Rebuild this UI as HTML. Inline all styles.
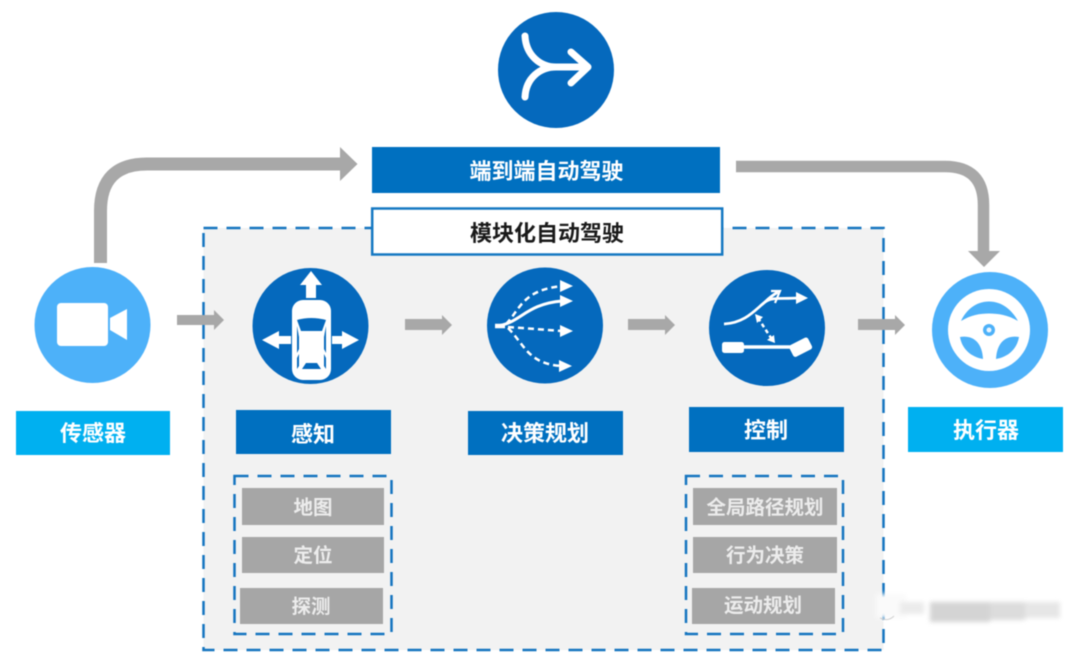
<!DOCTYPE html>
<html><head><meta charset="utf-8"><style>
html,body{margin:0;padding:0;background:#fff;width:1080px;height:663px;overflow:hidden}
svg{display:block;filter:blur(.6px)}
text{font-family:"Liberation Sans","Noto Sans CJK SC",sans-serif;text-anchor:middle;font-weight:700}
.h{font-size:22px;fill:#fff}
.g{font-size:19.5px;fill:#ececec;font-weight:700}
</style></head><body>
<svg width="1080" height="663" viewBox="0 0 1080 663" xmlns="http://www.w3.org/2000/svg">
<defs><filter id="b" x="-20%" y="-50%" width="140%" height="200%"><feGaussianBlur stdDeviation="2.5"/></filter></defs>
<rect width="1080" height="663" fill="#fff"/>
<!-- module panel -->
<rect x="203.5" y="228" width="680" height="422" fill="#f2f2f2" stroke="#1474bf" stroke-width="2.5" stroke-dasharray="14 9"/>
<!-- curved arrows -->
<path d="M100.500 263V211Q100.500 164 147 164H342" fill="none" stroke="#a8a8a8" stroke-width="13"/>
<polygon points="340,147 357.500,164 340,181" fill="#a8a8a8"/>
<path d="M736 166.500H945Q983.500 166.500 983.500 205V253" fill="none" stroke="#a8a8a8" stroke-width="11.500"/>
<polygon points="968,251 1000,251 984,267" fill="#a8a8a8"/>
<!-- small arrows -->
<g fill="#a8a8a8">
<polygon points="177,315 214,315 214,310 224,320 214,330 214,325 177,325"/>
<polygon points="405,319 442,319 442,315 452,325 442,335 442,330 405,330"/>
<polygon points="628,319 665,319 665,315 675,325 665,335 665,330 628,330"/>
<polygon points="858,319 895,319 895,315 905,325 895,335 895,330 858,330"/>
</g>
<!-- top icon -->
<circle cx="556" cy="70" r="58" fill="#0569bd"/>
<g fill="none" stroke="#fff" stroke-width="7" stroke-linecap="round" stroke-linejoin="round">
<path d="M525 36C526 55 540 67 556 67H586"/>
<path d="M525 97C526 78 540 67 556 67"/>
<path d="M571 52L588 67L571 83"/>
</g>
<!-- sensor -->
<circle cx="92.500" cy="325" r="58" fill="#4db1f9"/>
<rect x="57" y="303" width="51" height="43" rx="4" fill="#fff"/>
<polygon points="110,318 127,309 127,340 110,330" fill="#fff"/>
<!-- perception -->
<circle cx="310.500" cy="326" r="58" fill="#0569bd"/>
<g fill="#fff">
<polygon points="311,271 322,285 316,285 316,298 306,298 306,285 300,285"/>
<polygon points="262,340 279,331 279,336 291,336 291,344 279,344 279,349"/>
<polygon points="359,340 342,331 342,336 332,336 332,344 342,344 342,349"/>
<rect x="292" y="300" width="39" height="80" rx="11"/>
</g>
<g fill="#0569bd">
<path d="M297 320Q311 316 326 320L322 331H301Z"/>
<path d="M297 326L299 337V349L297 353Z"/>
<path d="M326 326L324 337V349L326 353Z"/>
<path d="M297 358L299 354V366L297 369Z"/>
<path d="M326 358L324 354V366L326 369Z"/>
<path d="M302 369L306 363H317L321 369Z"/>
</g>
<!-- decision -->
<circle cx="545" cy="325.500" r="58" fill="#0569bd"/>
<g fill="none" stroke="#fff">
<path d="M496 326C520 324 525 304 562 301" stroke-width="3"/>
<path d="M495 326H505" stroke-width="4.500"/>
<path d="M506 324C520 310 522 290 562 286" stroke-width="2.500" stroke-dasharray="6 4"/>
<path d="M508 327L562 331" stroke-width="2.500" stroke-dasharray="6 4"/>
<path d="M508 328C525 345 528 364 562 366" stroke-width="2.500" stroke-dasharray="6 4"/>
</g>
<g fill="#fff">
<polygon points="573,286 560,280 560,292"/>
<polygon points="573,301 560,295 560,307"/>
<polygon points="573,331 560,325 560,337"/>
<polygon points="572,366 559,360 559,372"/>
</g>
<!-- control -->
<circle cx="767" cy="328" r="58" fill="#0569bd"/>
<g fill="none" stroke="#fff">
<path d="M724 324C745 323 755 310 765 302C772 297 780 299 798 298" stroke-width="2.800"/>
<path d="M765 302C770 297 773 295 778 292" stroke-width="2.800"/>
<path d="M771 291H780L775 303" stroke-width="2.200"/>
<path d="M758 318L773 341" stroke-width="2.500" stroke-dasharray="4 3"/>
<path d="M730 347H790" stroke-width="3.500"/>
</g>
<g fill="#fff">
<polygon points="808,298 796,292 796,304"/>
<polygon points="755,314 763,317 757,323"/>
<polygon points="775,343 767,340 774,335"/>
<rect x="722" y="342" width="22" height="11" rx="2.500"/>
<rect x="790" y="341" width="21" height="13" rx="2.500" transform="rotate(-27 800 347)"/>
</g>
<!-- steering -->
<circle cx="990" cy="330" r="58" fill="#4db1f9"/>
<circle cx="989" cy="330" r="41" fill="#fff"/>
<g fill="#4db1f9">
<path d="M961 321C966 310 976 301.500 989 301.500C1002 301.500 1012 310 1018 321C1008 315 998 313.500 989 313.500C980 313.500 971 315 961 321Z"/>
<path d="M960 337C973 335 982 342 983 359C971 357 962 349 960 337Z"/>
<path d="M1019 337C1006 335 997 342 996 359C1008 357 1017 349 1019 337Z"/>
<circle cx="989" cy="330" r="6"/>
</g>
<circle cx="989" cy="330" r="2.500" fill="#e8f4fe"/>
<!-- headers -->
<rect x="372" y="147" width="348" height="46" fill="#0070c0"/>
<text x="546.500" y="179" class="h">端到端自动驾驶</text>
<rect x="372.200" y="208.500" width="350" height="46" fill="#fff" stroke="#1578c2" stroke-width="2.500"/>
<text x="547" y="241" style="font-size:22px;fill:#1a1a1a">模块化自动驾驶</text>
<rect x="16" y="411" width="154" height="44" fill="#00b0f0"/>
<text x="93" y="441" class="h">传感器</text>
<rect x="236" y="410" width="155" height="44" fill="#0070c0"/>
<text x="313" y="442" class="h">感知</text>
<rect x="468" y="411" width="155" height="44" fill="#0070c0"/>
<text x="545" y="441" class="h">决策规划</text>
<rect x="689" y="407" width="155" height="45" fill="#0070c0"/>
<text x="766" y="438" class="h">控制</text>
<rect x="908" y="407" width="155" height="45" fill="#00b0f0"/>
<text x="986" y="438" class="h">执行器</text>
<!-- dashed lists -->
<rect x="234.500" y="476" width="157" height="158" fill="none" stroke="#1474bf" stroke-width="2.500" stroke-dasharray="14 9"/>
<rect x="686" y="476" width="157" height="158" fill="none" stroke="#1474bf" stroke-width="2.500" stroke-dasharray="14 9"/>
<g fill="#a6a6a6">
<rect x="242" y="488" width="142" height="37"/>
<rect x="242" y="537" width="142" height="36"/>
<rect x="240" y="588" width="143" height="36"/>
<rect x="693" y="488" width="144" height="37"/>
<rect x="693" y="537" width="144" height="36"/>
<rect x="692" y="588" width="143" height="36"/>
</g>
<text x="313" y="514" class="g">地图</text>
<text x="313" y="562" class="g">定位</text>
<text x="311" y="613" class="g">探测</text>
<text x="765" y="514" class="g">全局路径规划</text>
<text x="765" y="562" class="g">行为决策</text>
<text x="763" y="612" class="g">运动规划</text>
<!-- blurred watermark -->
<g filter="url(#b)">
<rect x="876" y="594" width="30" height="24" fill="#fafafa"/>
<rect x="900" y="602" width="24" height="12" fill="#ebebeb"/>
<rect x="930" y="602" width="60" height="20" fill="#d4d4d4"/>
<rect x="990" y="602" width="35" height="18" fill="#dcdcdc"/>
<rect x="1025" y="602" width="35" height="16" fill="#e6e6e6"/>
</g>
<path d="M880 618Q888 622 894 616" fill="none" stroke="#d0d0d0" stroke-width="1"/>
</svg>
</body></html>
